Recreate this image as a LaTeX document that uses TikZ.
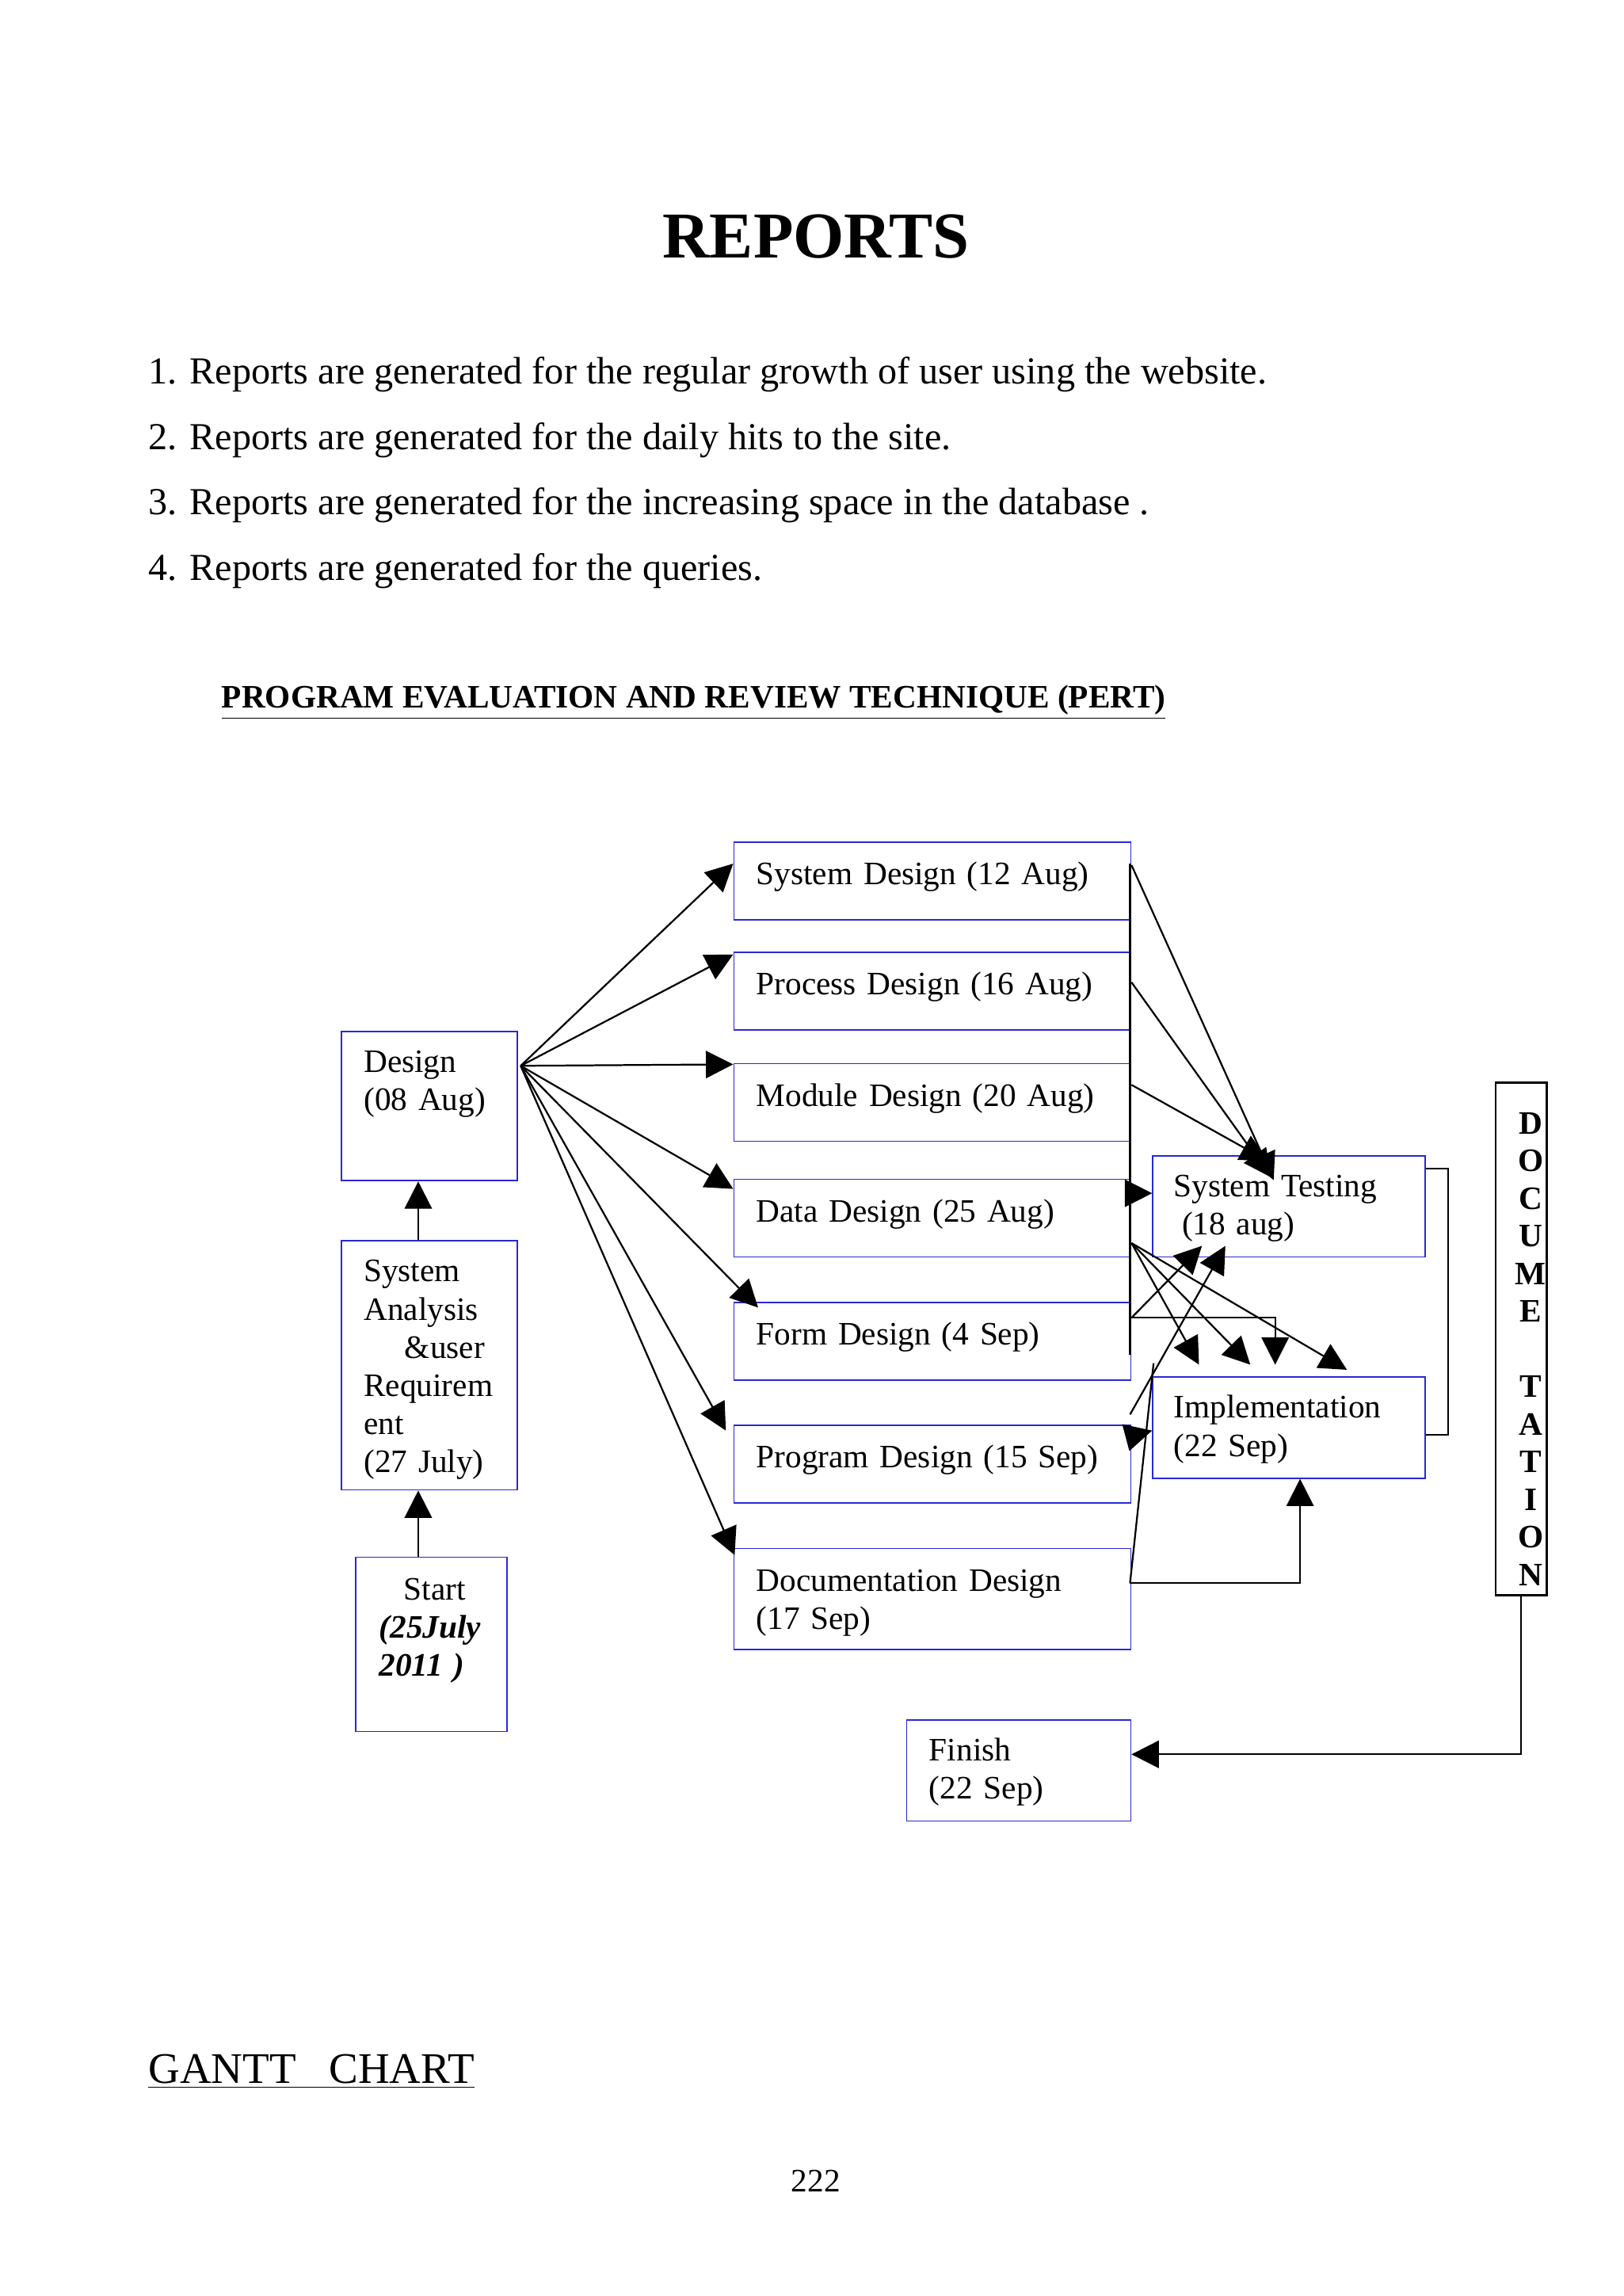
\documentclass[tikz,border=0pt]{standalone}
\usepackage{fontspec}
\setmainfont{Liberation Serif}
\usetikzlibrary{arrows.meta,fit,calc}
\definecolor{boxblue}{RGB}{40,40,215}
\begin{document}
\begin{tikzpicture}[x=0.53716pt,y=-0.53716pt,
  box/.style={draw=boxblue, line width=0.5pt, inner sep=0pt},
  lbl/.style={inner sep=0pt, anchor=base west, align=left, text width=5.5cm, font=\fontsize{12}{14}\selectfont},
  pagetext/.style={inner sep=0pt, anchor=base west, font=\fontsize{14}{16}\selectfont},
  conn/.style={draw=black, line width=0.65pt},
  arr/.style={conn, -{Triangle[length=10pt,width=10pt]}},
]
\useasboundingbox[fill=white] (0,0) rectangle (1108.2,1567.3);

% ---------- page text ----------
\node[inner sep=0pt, anchor=base, font=\fontsize{24}{28}\selectfont\bfseries] (title) at (557,176) {REPORTS};
\node[pagetext] (l1) at (101,262) {1. Reports are generated for the regular growth of user using the website.};
\node[pagetext] (l2) at (101,307) {2. Reports are generated for the daily hits to the site.};
\node[pagetext] (l3) at (101,351) {3. Reports are generated for the increasing space in the database .};
\node[pagetext] (l4) at (101,396) {4. Reports are generated for the queries.};
\node[pagetext, font=\fontsize{12}{14}\selectfont\bfseries] (pert) at (151,483) {\underline{PROGRAM EVALUATION AND REVIEW TECHNIQUE (PERT)}};
\node[pagetext, font=\fontsize{16}{18}\selectfont] (gantt) at (101,1422) {\underline{GANTT\ \ \ CHART}};
\node[inner sep=0pt, anchor=base, font=\fontsize{12}{14}\selectfont] (pageno) at (557,1496) {222};

% ---------- boxes ----------
\node[box, fit={(233,704)(353,806)}] (design) {};
\node[box, fit={(233,847)(353,1017)}] (sa) {};
\node[box, fit={(243,1063)(346,1182)}] (start) {};
\node[box, fit={(501,575)(772,628)}] (sd) {};
\node[box, fit={(501,650)(772,703)}] (pd) {};
\node[box, fit={(501,726)(772,779)}] (md) {};
\node[box, fit={(501,805)(772,858)}] (dd) {};
\node[box, fit={(501,889)(772,942)}] (fd) {};
\node[box, fit={(501,973)(772,1026)}] (pgd) {};
\node[box, fit={(501,1057)(772,1126)}] (docd) {};
\node[box, fit={(787,789)(973,858)}] (st) {};
\node[box, fit={(787,940)(973,1009)}] (impl) {};
\node[box, fit={(619,1174)(772,1243)}] (finish) {};
\node[draw=black, line width=0.8pt, inner sep=0pt, fit={(1021,739)(1056,1089)}] (docv) {};

% ---------- box texts ----------
\node[lbl] (designt) at (248,732) {Design\\(08 Aug)};
\node[lbl] (sat) at (248,875) {System\\Analysis\\\hspace*{15pt}\&user\\Requirem\\ent\\(27 July)};
\node[lbl] (startt) at (258.5,1092) {\hspace*{9pt}Start\\\textbf{\textit{(25July}}\\\textbf{\textit{2011 )}}};
\node[lbl] (sdt) at (516,604) {System Design (12 Aug)};
\node[lbl] (pdt) at (516,679) {Process Design (16 Aug)};
\node[lbl] (mdt) at (516,755) {Module Design (20 Aug)};
\node[lbl] (ddt) at (516,834) {Data Design (25 Aug)};
\node[lbl] (fdt) at (516,918) {Form Design (4 Sep)};
\node[lbl] (pgdt) at (516,1002) {Program Design (15 Sep)};
\node[lbl] (docdt) at (516,1086) {Documentation Design\\(17 Sep)};
\node[lbl] (stt) at (801,817) {System Testing\\\hspace*{3pt}(18 aug)};
\node[lbl] (implt) at (801,968) {Implementation\\(22 Sep)};
\node[lbl] (finisht) at (634,1202) {Finish\\(22 Sep)};
\node[inner sep=0pt, anchor=base, align=center, text width=1cm,
      font=\fontsize{12}{13.8}\selectfont\bfseries] (docvt) at (1045,774)
  {D\\O\\C\\U\\M\\E\\\mbox{}\\T\\A\\T\\I\\O\\N};

% ---------- connectors: left column ----------
\draw[arr] ($(start.north west)+(43,0)$) -- ($(sa.south west)+(53,0)$);
\draw[arr] ($(sa.north west)+(53,0)$) -- ($(design.south west)+(53,0)$);

% fan from Design
\coordinate (fan) at ($(design.north east)+(2,24)$);
\draw[arr] (fan) -- ($(sd.north west)+(0,15)$);
\draw[arr] (fan) -- ($(pd.north west)+(0,2)$);
\draw[arr] (fan) -- ($(md.north west)+(0,1)$);
\draw[arr] (fan) -- ($(dd.north west)+(0,7)$);
\draw[arr] (fan) -- ($(fd.north west)+(17,4)$);
\draw[arr] (fan) -- ($(pgd.north west)+(-5,4)$);
\draw[arr] (fan) -- ($(docd.north west)+(1,5)$);

% vertical line along right edges
\draw[conn] ($(sd.north east)+(-1,15)$) -- ($(fd.north east)+(-1,36)$);

% to System Testing
\draw[arr] ($(sd.north east)+(0,16)$) -- ($(st.north west)+(83,17)$);
\draw[arr] ($(pd.north east)+(0,21)$) -- ($(st.north west)+(81,15)$);
\draw[arr] ($(md.north east)+(0,15)$) -- ($(st.north west)+(79,4)$);
\draw[arr] ($(dd.north east)+(-1,10)$) -- ($(st.north west)+(0,26)$);
\draw[arr] ($(fd.north east)+(0,11)$) -- ($(st.south west)+(34,-8)$);
\draw[arr] ($(pgd.north east)+(-1,-7)$) -- ($(st.south west)+(50,-8)$);

% to Implementation
\coordinate (fan2) at ($(dd.north east)+(0,44)$);
\draw[arr] (fan2) -- ($(impl.north west)+(32,-8)$);
\draw[arr] (fan2) -- ($(impl.north west)+(67,-8)$);
\draw[arr] (fan2) -- ($(impl.north west)+(133,-4.5)$);
\draw[arr] ($(fd.north east)+(0,11)$) -| ($(impl.north west)+(84,-8)$);
\draw[conn] ($(docd.north east)+(-1,24)$) -- ($(impl.north west)+(1,-9)$);
\draw[arr] ($(pgd.north east)+(-1,8)$) -- ($(impl.north west)+(0,37)$);
\draw[arr] ($(docd.north east)+(-1,24)$) -| ($(impl.south west)+(101,0)$);

% System Testing - Implementation bracket
\draw[conn] ($(st.north east)+(0,9)$) -- ++(15,0) |- ($(impl.north east)+(0,40)$);

% Documentation to Finish
\draw[arr] (docv.south) |- ($(finish.north east)+(0,24)$);
\end{tikzpicture}
\end{document}
